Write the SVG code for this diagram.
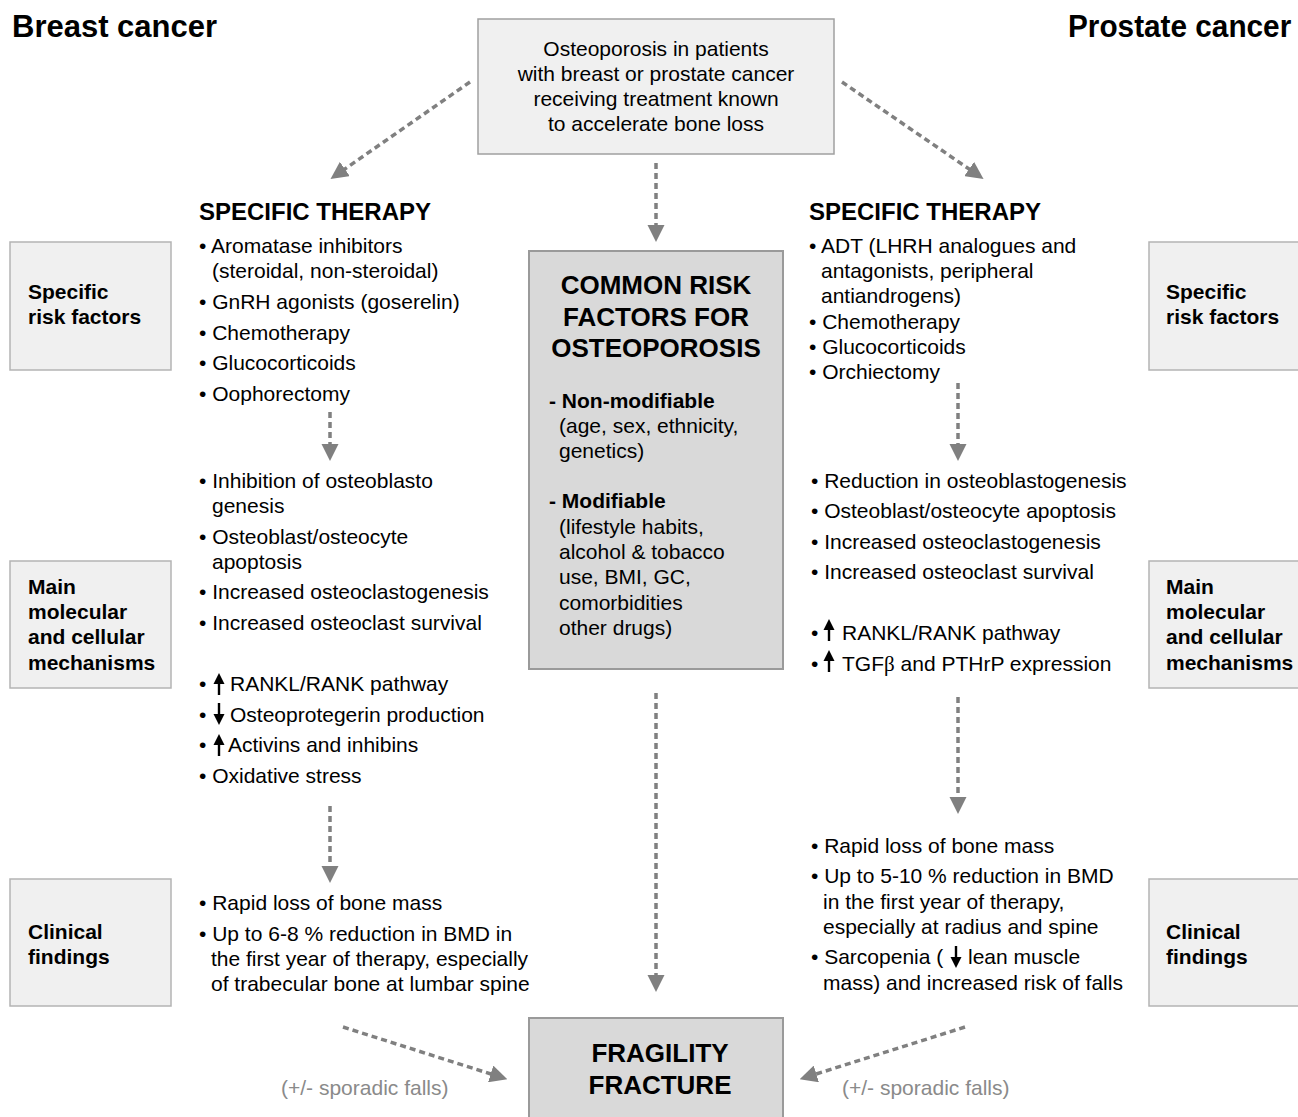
<svg xmlns="http://www.w3.org/2000/svg" width="1298" height="1117" viewBox="0 0 1298 1117">
<style>
text{font-family:"Liberation Sans",Arial,sans-serif;fill:#000}
.t{font-size:21px}
.b{font-weight:bold}
.h1{font-size:31px;font-weight:bold}
.h2{font-size:24px;font-weight:bold}
.h3{font-size:26px;font-weight:bold}
.lab{font-size:21px;font-weight:bold}
.gr{fill:#8a8a8a;font-size:21px}
.mid{text-anchor:middle}
.box{fill:#f0f0f0;stroke:#b4b4b4;stroke-width:1.5}
.dbox{fill:#d9d9d9;stroke:#9a9a9a;stroke-width:2}
.con{stroke:#808080;stroke-width:3.5;stroke-dasharray:6 4;fill:none;marker-end:url(#ah)}
.sa{stroke:#000;stroke-width:2.4}
</style>
<defs>
<marker id="ah" viewBox="0 0 10 10" refX="2" refY="5" markerWidth="5" markerHeight="5" orient="auto" markerUnits="strokeWidth">
<path d="M0,0 L10,5 L0,10 z" fill="#000" style="fill:#808080"/>
</marker>
<g id="up"><line class="sa" x1="0" y1="11" x2="0" y2="-3"/><path d="M-5.5,0 L0,-11 L5.5,0 z" fill="#000"/></g>
<g id="dn"><line class="sa" x1="0" y1="-11" x2="0" y2="3"/><path d="M-5.5,0 L0,11 L5.5,0 z" fill="#000"/></g>
</defs>

<g id="title-breast"><text class="h1" x="12" y="37">Breast cancer</text></g>
<g id="title-prostate"><text class="h1" x="0" y="0" transform="translate(1068,37) scale(0.96,1)">Prostate cancer</text></g>

<g id="top-box">
<rect class="box" x="478" y="19" width="356" height="135" style="stroke:#a0a0a0"/>
<text class="t mid" x="656" y="56">Osteoporosis in patients</text>
<text class="t mid" x="656" y="81">with breast or prostate cancer</text>
<text class="t mid" x="656" y="106">receiving treatment known</text>
<text class="t mid" x="656" y="131">to accelerate bone loss</text>
</g>

<g id="left-label-risk"><rect class="box" x="10" y="242" width="161" height="128"/>
<text class="lab" x="28" y="299">Specific</text><text class="lab" x="28" y="324">risk factors</text></g>
<g id="left-label-mech"><rect class="box" x="10" y="561" width="161" height="127"/>
<text class="lab" x="28" y="594">Main</text><text class="lab" x="28" y="619">molecular</text><text class="lab" x="28" y="644">and cellular</text><text class="lab" x="28" y="670">mechanisms</text></g>
<g id="left-label-clin"><rect class="box" x="10" y="879" width="161" height="127"/>
<text class="lab" x="28" y="939">Clinical</text><text class="lab" x="28" y="964">findings</text></g>

<g id="right-label-risk"><rect class="box" x="1149" y="242" width="160" height="128"/>
<text class="lab" x="1166" y="299">Specific</text><text class="lab" x="1166" y="324">risk factors</text></g>
<g id="right-label-mech"><rect class="box" x="1149" y="561" width="160" height="127"/>
<text class="lab" x="1166" y="594">Main</text><text class="lab" x="1166" y="619">molecular</text><text class="lab" x="1166" y="644">and cellular</text><text class="lab" x="1166" y="670">mechanisms</text></g>
<g id="right-label-clin"><rect class="box" x="1149" y="879" width="160" height="127"/>
<text class="lab" x="1166" y="939">Clinical</text><text class="lab" x="1166" y="964">findings</text></g>

<g id="left-therapy">
<text class="h2" x="199" y="220">SPECIFIC THERAPY</text>
<text class="t" x="199" y="253">• Aromatase inhibitors</text>
<text class="t" x="212" y="278">(steroidal, non-steroidal)</text>
<text class="t" x="199" y="309">• GnRH agonists (goserelin)</text>
<text class="t" x="199" y="340">• Chemotherapy</text>
<text class="t" x="199" y="370">• Glucocorticoids</text>
<text class="t" x="199" y="401">• Oophorectomy</text>
</g>

<g id="left-mechanisms">
<text class="t" x="199" y="488">• Inhibition of osteoblasto</text>
<text class="t" x="212" y="513">genesis</text>
<text class="t" x="199" y="544">• Osteoblast/osteocyte</text>
<text class="t" x="212" y="569">apoptosis</text>
<text class="t" x="199" y="599">• Increased osteoclastogenesis</text>
<text class="t" x="199" y="630">• Increased osteoclast survival</text>
<text class="t" x="199" y="691">•</text><use href="#up" x="219" y="684"/><text class="t" x="230" y="691">RANKL/RANK pathway</text>
<text class="t" x="199" y="722">•</text><use href="#dn" x="219" y="714"/><text class="t" x="230" y="722">Osteoprotegerin production</text>
<text class="t" x="199" y="752">•</text><use href="#up" x="219" y="745"/><text class="t" x="228" y="752">Activins and inhibins</text>
<text class="t" x="199" y="783">• Oxidative stress</text>
</g>

<g id="left-clinical">
<text class="t" x="199" y="910">• Rapid loss of bone mass</text>
<text class="t" x="199" y="941">• Up to 6-8 % reduction in BMD in</text>
<text class="t" x="211" y="966">the first year of therapy, especially</text>
<text class="t" x="211" y="991">of trabecular bone at lumbar spine</text>
</g>

<g id="right-therapy">
<text class="h2" x="809" y="220">SPECIFIC THERAPY</text>
<text class="t" x="809" y="253">• ADT (LHRH analogues and</text>
<text class="t" x="821" y="278">antagonists, peripheral</text>
<text class="t" x="821" y="303">antiandrogens)</text>
<text class="t" x="809" y="329">• Chemotherapy</text>
<text class="t" x="809" y="354">• Glucocorticoids</text>
<text class="t" x="809" y="379">• Orchiectomy</text>
</g>

<g id="right-mechanisms">
<text class="t" x="811" y="488">• Reduction in osteoblastogenesis</text>
<text class="t" x="811" y="518">• Osteoblast/osteocyte apoptosis</text>
<text class="t" x="811" y="549">• Increased osteoclastogenesis</text>
<text class="t" x="811" y="579">• Increased osteoclast survival</text>
<text class="t" x="811" y="640">•</text><use href="#up" x="829" y="630"/><text class="t" x="842" y="640">RANKL/RANK pathway</text>
<text class="t" x="811" y="671">•</text><use href="#up" x="829" y="661"/><text class="t" x="842" y="671">TGF<tspan font-family="Liberation Serif, serif">β</tspan> and PTHrP expression</text>
</g>

<g id="right-clinical">
<text class="t" x="811" y="853">• Rapid loss of bone mass</text>
<text class="t" x="811" y="883">• Up to 5-10 % reduction in BMD</text>
<text class="t" x="823" y="909">in the first year of therapy,</text>
<text class="t" x="823" y="934">especially at radius and spine</text>
<text class="t" x="811" y="964">• Sarcopenia (</text><use href="#dn" x="956" y="957"/><text class="t" x="968" y="964">lean muscle</text>
<text class="t" x="823" y="990">mass) and increased risk of falls</text>
</g>

<g id="common-risk">
<rect class="dbox" x="529" y="251" width="254" height="418"/>
<text class="h3 mid" x="656" y="294">COMMON RISK</text>
<text class="h3 mid" x="656" y="326">FACTORS FOR</text>
<text class="h3 mid" x="656" y="357">OSTEOPOROSIS</text>
<text class="t b" x="549" y="408">- Non-modifiable</text>
<text class="t" x="559" y="433">(age, sex, ethnicity,</text>
<text class="t" x="559" y="458">genetics)</text>
<text class="t b" x="549" y="508">- Modifiable</text>
<text class="t" x="559" y="534">(lifestyle habits,</text>
<text class="t" x="559" y="559">alcohol &amp; tobacco</text>
<text class="t" x="559" y="584">use, BMI, GC,</text>
<text class="t" x="559" y="610">comorbidities</text>
<text class="t" x="559" y="635">other drugs)</text>
</g>

<g id="fragility">
<rect class="dbox" x="529" y="1018" width="254" height="110"/>
<text class="h3 mid" x="660" y="1062">FRAGILITY</text>
<text class="h3 mid" x="660" y="1094">FRACTURE</text>
</g>

<g id="falls-labels">
<text class="gr" x="281" y="1095">(+/- sporadic falls)</text>
<text class="gr" x="842" y="1095">(+/- sporadic falls)</text>
</g>

<g id="connectors">
<line class="con" x1="470" y1="82" x2="342" y2="171"/>
<line class="con" x1="842" y1="82" x2="972" y2="171"/>
<line class="con" x1="656" y1="163" x2="656" y2="228"/>
<line class="con" x1="330" y1="412" x2="330" y2="447"/>
<line class="con" x1="330" y1="806" x2="330" y2="869"/>
<line class="con" x1="958" y1="383" x2="958" y2="447"/>
<line class="con" x1="958" y1="697" x2="958" y2="800"/>
<line class="con" x1="656" y1="693" x2="656" y2="978"/>
<line class="con" x1="343" y1="1027" x2="494" y2="1075"/>
<line class="con" x1="965" y1="1027" x2="813" y2="1075"/>
</g>
</svg>
